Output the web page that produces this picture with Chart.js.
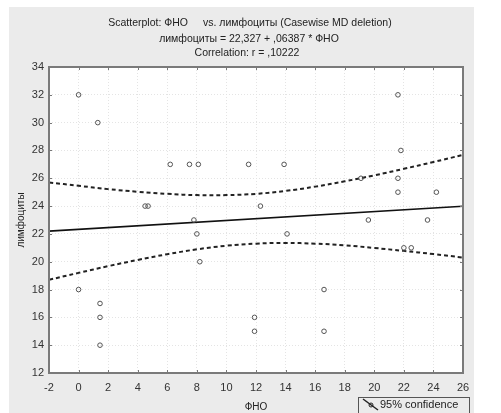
<!DOCTYPE html>
<html>
<head>
<meta charset="utf-8">
<script src="https://cdn.jsdelivr.net/npm/chart.js@4"></script>
<style>
  html, body { margin: 0; padding: 0; background: #fff; }
  #wrap { width: 501px; height: 413px; position: relative; }
</style>
</head>
<body>
<div id="wrap"><canvas id="scatterChart" width="501" height="413"></canvas></div>
<script>
// observed values (ФНО vs лимфоциты)
const fnoValues = [0, 1.3, 6.2, 7.5, 8.1, 4.5, 4.7, 7.8, 8.0, 8.2, 0, 1.45, 1.45, 1.45,
    11.5, 13.9, 12.3, 14.1, 16.6, 11.9, 11.9, 16.6, 21.6, 21.8, 21.6, 21.6, 24.2, 19.1,
    19.6, 23.6, 22.0, 22.5];
const lymphValues = [32, 30, 27, 27, 27, 24, 24, 23, 22, 20, 18, 17, 16, 14,
    27, 27, 24, 22, 18, 16, 15, 15, 32, 28, 26, 25, 25, 26,
    23, 23, 21, 21];

// regression line ends
const regX = [-2, 26];
const regY = [22.20, 23.99];

// 95% confidence band
const bandX = [-2, 0, 2, 4, 6, 8, 10, 12, 14, 16, 18, 20, 22, 24, 26];
const bandUpper = [25.70, 25.46, 25.22, 25.03, 24.88, 24.79, 24.79, 24.88, 25.09, 25.40, 25.78, 26.21, 26.68, 27.17, 27.68];
const bandLower = [18.70, 19.20, 19.68, 20.13, 20.54, 20.89, 21.15, 21.30, 21.35, 21.30, 21.18, 20.99, 20.78, 20.55, 20.30];

const xTicks = [-2, 0, 2, 4, 6, 8, 10, 12, 14, 16, 18, 20, 22, 24, 26];
const yTicks = [12, 14, 16, 18, 20, 22, 24, 26, 28, 30, 32, 34];

const FONT = "'Liberation Sans', Arial, sans-serif";

const toPoints = (xs, ys) => xs.map((x, i) => ({ x: x, y: ys[i] }));

const decorPlugin = {
    id: "decor",
    beforeDraw(chart) {
        const ctx = chart.ctx;
        const a = chart.chartArea;
        ctx.save();
        ctx.fillStyle = "#ffffff";
        ctx.fillRect(0, 0, chart.width, chart.height);
        ctx.fillStyle = "#ebebeb";
        ctx.fillRect(9, 7, 465, 406);
        ctx.fillStyle = "#ffffff";
        ctx.fillRect(a.left, a.top, a.right - a.left, a.bottom - a.top);
        ctx.restore();
    },
    afterDraw(chart) {
        const ctx = chart.ctx;
        const a = chart.chartArea;
        const xs = chart.scales.x;
        const ys = chart.scales.y;
        ctx.save();

        // inward ticks on all four sides
        ctx.strokeStyle = "#777";
        ctx.lineWidth = 1;
        ctx.beginPath();
        xTicks.forEach(t => {
            const px = Math.round(xs.getPixelForValue(t)) + 0.5;
            ctx.moveTo(px, a.bottom); ctx.lineTo(px, a.bottom - 3);
            ctx.moveTo(px, a.top); ctx.lineTo(px, a.top + 3);
        });
        yTicks.forEach(t => {
            const py = Math.round(ys.getPixelForValue(t)) + 0.5;
            ctx.moveTo(a.left, py); ctx.lineTo(a.left + 3, py);
            ctx.moveTo(a.right, py); ctx.lineTo(a.right - 3, py);
        });
        ctx.stroke();

        // frame
        ctx.strokeStyle = "#7a7a7a";
        ctx.lineWidth = 2;
        ctx.strokeRect(a.left, a.top, a.right - a.left, a.bottom - a.top);

        // titles
        ctx.fillStyle = "#222";
        ctx.font = "10.5px " + FONT;
        ctx.textBaseline = "middle";
        ctx.textAlign = "right";
        ctx.fillText("Scatterplot: ФНО", 188, 23);
        ctx.textAlign = "left";
        ctx.fillText("vs. лимфоциты (Casewise MD deletion)", 203, 23);
        ctx.textAlign = "center";
        ctx.fillText("лимфоциты = 22,327 + ,06387 * ФНО", 249, 39);
        ctx.fillText("Correlation: r = ,10222", 247, 53);

        // axis titles
        ctx.font = "10px " + FONT;
        ctx.fillText("ФНО", 256, 407);
        ctx.save();
        ctx.translate(21, 220);
        ctx.rotate(-Math.PI / 2);
        ctx.fillText("лимфоциты", 0, 0);
        ctx.restore();

        // legend box
        ctx.strokeStyle = "#555";
        ctx.lineWidth = 1;
        ctx.strokeRect(358.5, 397.5, 111, 20);
        ctx.strokeStyle = "#222";
        ctx.lineWidth = 1.5;
        ctx.beginPath();
        ctx.moveTo(363, 399); ctx.lineTo(378, 410);
        ctx.stroke();
        ctx.lineWidth = 1;
        ctx.beginPath();
        ctx.arc(371, 405, 2, 0, Math.PI * 2);
        ctx.stroke();
        ctx.fillStyle = "#222";
        ctx.font = "11px " + FONT;
        ctx.textAlign = "left";
        ctx.fillText("95% confidence", 380, 405);

        ctx.restore();
    }
};

const ctx = document.getElementById("scatterChart").getContext("2d");

new Chart(ctx, {
    type: "scatter",
    data: {
        datasets: [{
            label: "лимфоциты",
            data: toPoints(fnoValues, lymphValues),
            pointStyle: "circle",
            pointRadius: 2.3,
            borderColor: "#555",
            backgroundColor: "rgba(0,0,0,0)",
            borderWidth: 1
        }, {
            type: "line",
            label: "регрессия",
            data: toPoints(regX, regY),
            borderColor: "#111",
            borderWidth: 1.6,
            pointRadius: 0,
            fill: false
        }, {
            type: "line",
            label: "95% upper",
            data: toPoints(bandX, bandUpper),
            borderColor: "#222",
            borderWidth: 2,
            borderDash: [4, 3],
            tension: 0.4,
            pointRadius: 0,
            fill: false
        }, {
            type: "line",
            label: "95% lower",
            data: toPoints(bandX, bandLower),
            borderColor: "#222",
            borderWidth: 2,
            borderDash: [4, 3],
            tension: 0.4,
            pointRadius: 0,
            fill: false
        }]
    },
    options: {
        responsive: false,
        animation: false,
        layout: { padding: { left: 0, top: 67, right: 38, bottom: 0 } },
        plugins: {
            legend: { display: false },
            tooltip: { enabled: false },
            title: { display: false }
        },
        scales: {
            x: {
                type: "linear",
                min: -2,
                max: 26,
                afterFit: s => { s.height = 40; },
                afterBuildTicks: s => { s.ticks = xTicks.map(v => ({ value: v })); },
                ticks: { color: "#333", font: { family: FONT, size: 11 }, padding: 8 },
                grid: { color: "#e4e4e4", drawTicks: false },
                border: { display: false, dash: [1, 2] }
            },
            y: {
                type: "linear",
                min: 12,
                max: 34,
                afterFit: s => { s.width = 49; },
                afterBuildTicks: s => { s.ticks = yTicks.map(v => ({ value: v })); },
                ticks: { color: "#333", font: { family: FONT, size: 11 }, padding: 5 },
                grid: { color: "#e4e4e4", drawTicks: false },
                border: { display: false, dash: [1, 2] }
            }
        }
    },
    plugins: [decorPlugin]
});
</script>
</body>
</html>
